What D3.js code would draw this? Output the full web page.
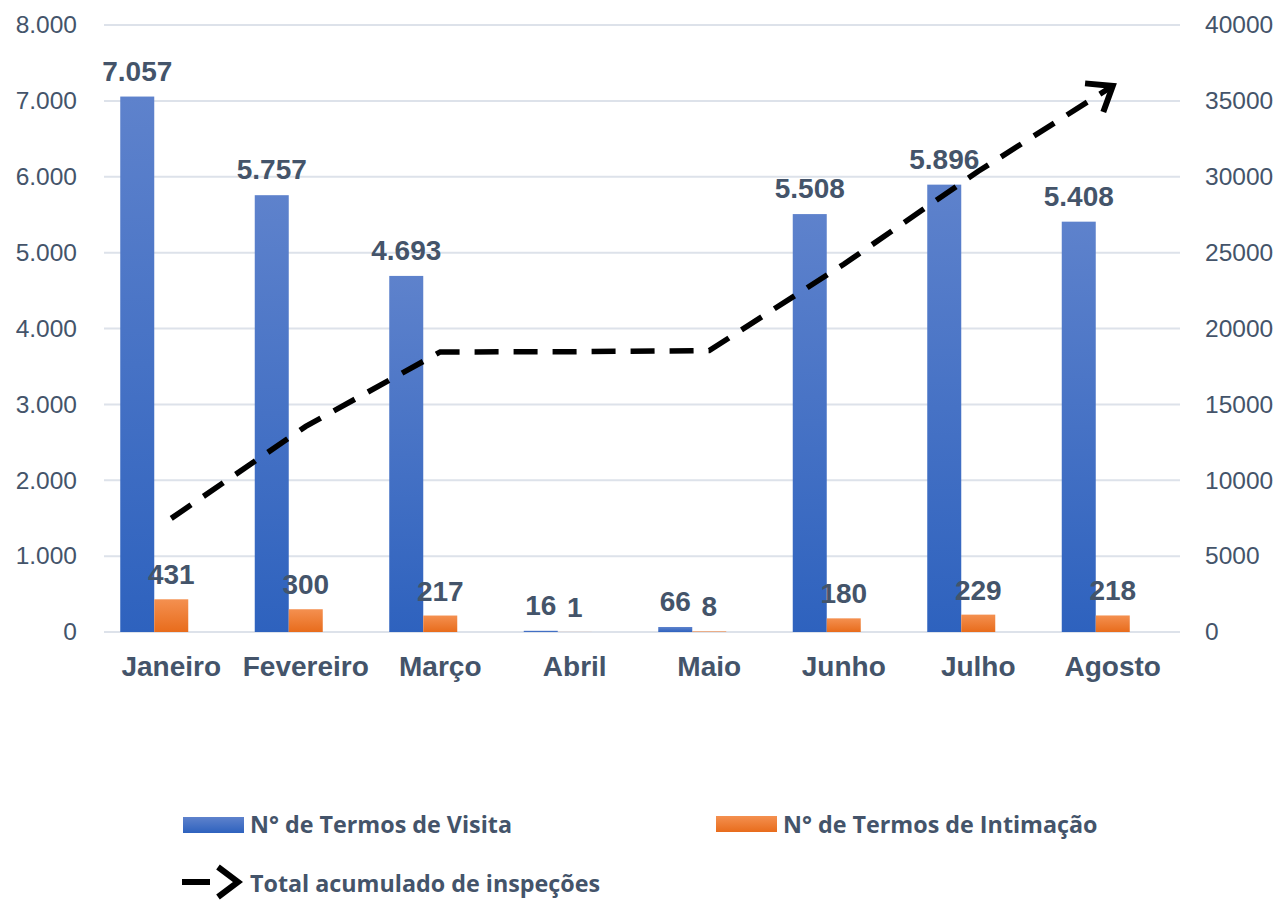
<!DOCTYPE html>
<html>
<head>
<meta charset="utf-8">
<script src="https://cdn.jsdelivr.net/npm/d3@7"></script>
<style>
  body { margin: 0; background: #fff; }
  .eje text { fill: #44546a; font-family: 'Liberation Sans', Arial, sans-serif; font-size: 24.5px; }
  .rotulo { fill: #44546a; font-family: 'Liberation Sans', Arial, sans-serif; font-weight: bold; }
  .leyenda { fill: #44546a; font-family: 'Open Sans', sans-serif; font-weight: 700; font-size: 23.3px; }
</style>
</head>
<body>
<div id="graf"></div>
<script>
// I. Datos
meses = ['Janeiro', 'Fevereiro', 'Março', 'Abril', 'Maio', 'Junho', 'Julho', 'Agosto']
termosVisita = [7057, 5757, 4693, 16, 66, 5508, 5896, 5408]
termosIntimacao = [431, 300, 217, 1, 8, 180, 229, 218]
totalAcumulado = [7488, 13545, 18455, 18472, 18546, 24234, 30359, 35985]
ticksIzq = [0, 1000, 2000, 3000, 4000, 5000, 6000, 7000, 8000]
ticksDer = [0, 5000, 10000, 15000, 20000, 25000, 30000, 35000, 40000]

// II. Configuración
ancho_total = 1283
alto_total = 900
margins = { top: 25, left: 104, right: 103, bottom: 268 }
ancho = ancho_total - margins.left - margins.right
alto = alto_total - margins.top - margins.bottom

pt = d3.formatLocale({ decimal: ',', thousands: '.', grouping: [3], currency: ['R$', ''] })
fmt = pt.format(',.0f')

svg = d3.select('#graf').append('svg')
        .attr('width', ancho_total)
        .attr('height', alto_total)

defs = svg.append('defs')
gAzul = defs.append('linearGradient').attr('id', 'gradAzul')
            .attr('x1', 0).attr('y1', 0).attr('x2', 0).attr('y2', 1)
gAzul.append('stop').attr('offset', '0%').attr('stop-color', '#5e82cc')
gAzul.append('stop').attr('offset', '100%').attr('stop-color', '#2e62be')
gNar = defs.append('linearGradient').attr('id', 'gradNaranja')
           .attr('x1', 0).attr('y1', 0).attr('x2', 0).attr('y2', 1)
gNar.append('stop').attr('offset', '0%').attr('stop-color', '#f49050')
gNar.append('stop').attr('offset', '100%').attr('stop-color', '#e86c1c')

defs.append('marker')
    .attr('id', 'flecha')
    .attr('markerUnits', 'userSpaceOnUse')
    .attr('viewBox', '-30 -25 40 50')
    .attr('markerWidth', 40).attr('markerHeight', 50)
    .attr('refX', 0).attr('refY', 0)
    .attr('orient', 'auto')
  .append('path')
    .attr('d', 'M-22,-17 L0,0 L-22,17')
    .attr('fill', 'none')
    .attr('stroke', '#000')
    .attr('stroke-width', 6)

g = svg.append('g')
       .attr('transform', `translate(${ margins.left }, ${ margins.top })`)

// III. Escaladores
x = d3.scaleBand().domain(meses).range([0, ancho])
xs = d3.scaleBand().domain(['visita', 'intimacao', 'vazio'])
       .range([0, x.bandwidth()]).paddingOuter(0.478)
y = d3.scaleLinear().domain([0, 8000]).range([alto, 0])
y2 = d3.scaleLinear().domain([0, 40000]).range([alto, 0])

// Líneas de cuadrícula
g.selectAll('.grid')
  .data(ticksIzq)
  .enter().append('line')
    .attr('x1', 0).attr('x2', ancho)
    .attr('y1', d => y(d)).attr('y2', d => y(d))
    .attr('stroke', '#dde2ea')
    .attr('stroke-width', 2)

// Ejes
yAxisCall = d3.axisLeft(y).tickValues(ticksIzq).tickFormat(fmt).tickSize(0).tickPadding(27)
g.append('g').attr('class', 'eje').call(yAxisCall)
y2AxisCall = d3.axisRight(y2).tickValues(ticksDer).tickFormat(d => d).tickSize(0).tickPadding(25)
g.append('g').attr('class', 'eje').attr('transform', `translate(${ ancho }, 0)`).call(y2AxisCall)
g.selectAll('.eje .domain').remove()

g.selectAll('.mes')
  .data(meses)
  .enter().append('text')
    .attr('class', 'rotulo')
    .attr('x', d => x(d) + x.bandwidth() / 2)
    .attr('y', alto + 44)
    .attr('text-anchor', 'middle')
    .style('font-size', '28px')
    .text(d => d)

// Barras
g.selectAll('.barVisita')
  .data(termosVisita)
  .enter().append('rect')
    .attr('x', (d, i) => x(meses[i]) + xs('visita'))
    .attr('y', d => y(d))
    .attr('width', xs.bandwidth())
    .attr('height', d => alto - y(d))
    .attr('fill', 'url(#gradAzul)')

g.selectAll('.barInt')
  .data(termosIntimacao)
  .enter().append('rect')
    .attr('x', (d, i) => x(meses[i]) + xs('intimacao'))
    .attr('y', d => y(d))
    .attr('width', xs.bandwidth())
    .attr('height', d => alto - y(d))
    .attr('fill', 'url(#gradNaranja)')

// Línea acumulada
linea = d3.line()
          .x((d, i) => x(meses[i]) + x.bandwidth() / 2)
          .y(d => y2(d))

g.append('path')
  .datum(totalAcumulado)
  .attr('d', linea)
  .attr('fill', 'none')
  .attr('stroke', '#000')
  .attr('stroke-width', 5.5)
  .attr('stroke-dasharray', '24,15')
  .attr('marker-end', 'url(#flecha)')

// Etiquetas de datos
g.selectAll('.etVisita')
  .data(termosVisita)
  .enter().append('text')
    .attr('class', 'rotulo')
    .attr('x', (d, i) => x(meses[i]) + xs('visita') + xs.bandwidth() / 2)
    .attr('y', d => y(d) - 16)
    .attr('text-anchor', 'middle')
    .style('font-size', '28px')
    .text(d => fmt(d))

g.selectAll('.etInt')
  .data(termosIntimacao)
  .enter().append('text')
    .attr('class', 'rotulo')
    .attr('x', (d, i) => x(meses[i]) + xs('intimacao') + xs.bandwidth() / 2)
    .attr('y', d => y(d) - 15)
    .attr('text-anchor', 'middle')
    .style('font-size', '28px')
    .text(d => fmt(d))

// Leyenda
ley = svg.append('g')
ley.append('rect').attr('x', 183).attr('y', 817).attr('width', 61).attr('height', 16).attr('fill', 'url(#gradAzul)')
ley.append('text').attr('class', 'leyenda').attr('x', 250).attr('y', 833).text('N° de Termos de Visita')
ley.append('rect').attr('x', 716).attr('y', 816).attr('width', 61).attr('height', 16).attr('fill', 'url(#gradNaranja)')
ley.append('text').attr('class', 'leyenda').attr('x', 783).attr('y', 833).text('N° de Termos de Intimação')
ley.append('line').attr('x1', 182).attr('x2', 210).attr('y1', 882).attr('y2', 882)
   .attr('stroke', '#000').attr('stroke-width', 6)
ley.append('path').attr('d', 'M218,867 L238,882 L218,897')
   .attr('fill', 'none').attr('stroke', '#000').attr('stroke-width', 6)
ley.append('text').attr('class', 'leyenda').attr('x', 250).attr('y', 892).text('Total acumulado de inspeções')
</script>
</body>
</html>
